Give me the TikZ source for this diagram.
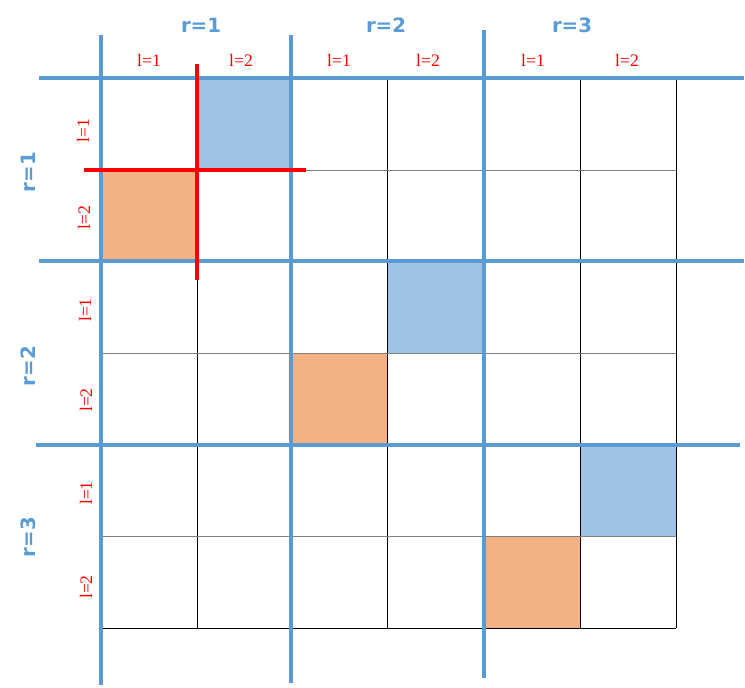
\documentclass[tikz,border=0pt]{standalone}
\usepackage{fontspec}
\setmainfont{Liberation Serif}
\newfontfamily\rfont{DejaVu Sans}
\definecolor{bline}{HTML}{5B9BD5}
\definecolor{bfill}{HTML}{9DC3E6}
\definecolor{ofill}{HTML}{F4B183}
\definecolor{gline}{HTML}{7F7F7F}
\tikzset{
  rlab/.style={text=bline, font=\rfont\bfseries\fontsize{14.8}{15}\selectfont, inner sep=0pt},
  llab/.style={text=red, font=\fontsize{13.2}{14}\selectfont, inner sep=0pt},
  thick blue/.style={draw=bline, line width=3pt},
  redline/.style={draw=red, line width=3pt},
  thinline/.style={draw=black, line width=0.75pt},
  grayline/.style={draw=gline, line width=0.75pt},
}
\begin{document}
\begin{tikzpicture}[x=0.75pt, y=-0.75pt]
\useasboundingbox (0,0) rectangle (745,687);
% fills
\fill[bfill] (197,78) rectangle (291,170);
\fill[bfill] (387,261) rectangle (484,353);
\fill[bfill] (580,445) rectangle (676,536);
\fill[ofill] (101,170) rectangle (197,261);
\fill[ofill] (291,353) rectangle (387,445);
\fill[ofill] (484,536) rectangle (580,628);
% thin grid
\foreach \x in {197,387,580,676} \draw[thinline] (\x,78) -- (\x,628);
\foreach \y in {170,353,536} \draw[grayline] (101,\y) -- (676,\y);
\draw[thinline] (101,628) -- (676,628);
% blue lines
\draw[thick blue] (101,35) -- (101,685);
\draw[thick blue] (291,35) -- (291,683);
\draw[thick blue] (484,30) -- (484,678);
\draw[thick blue] (39,78) -- (744,78);
\draw[thick blue] (39,261) -- (744,261);
\draw[thick blue] (36,445) -- (740,445);
% red cross
\draw[redline] (197,64) -- (197,280);
\draw[redline] (84,170) -- (306,170);
% top labels
\node[rlab] (R1t) at (201,25) {r=1};
\node[rlab] (R2t) at (386,25) {r=2};
\node[rlab] (R3t) at (572,25) {r=3};
\node[rlab, rotate=90] (R1l) at (28,172) {r=1};
\node[rlab, rotate=90] (R2l) at (28,366) {r=2};
\node[rlab, rotate=90] (R3l) at (28,537) {r=3};
% l labels top
\node[llab] (t1) at (149,60) {l=1};
\node[llab] (t2) at (241,60) {l=2};
\node[llab] (t3) at (339,60) {l=1};
\node[llab] (t4) at (428,60) {l=2};
\node[llab] (t5) at (533,60) {l=1};
\node[llab] (t6) at (627,60) {l=2};
% l labels left
\node[llab, rotate=90] (s1) at (83,131) {l=1};
\node[llab, rotate=90] (s2) at (84,218) {l=2};
\node[llab, rotate=90] (s3) at (85,310) {l=1};
\node[llab, rotate=90] (s4) at (86,400) {l=2};
\node[llab, rotate=90] (s5) at (86,493) {l=1};
\node[llab, rotate=90] (s6) at (86,587) {l=2};
\end{tikzpicture}
\end{document}
